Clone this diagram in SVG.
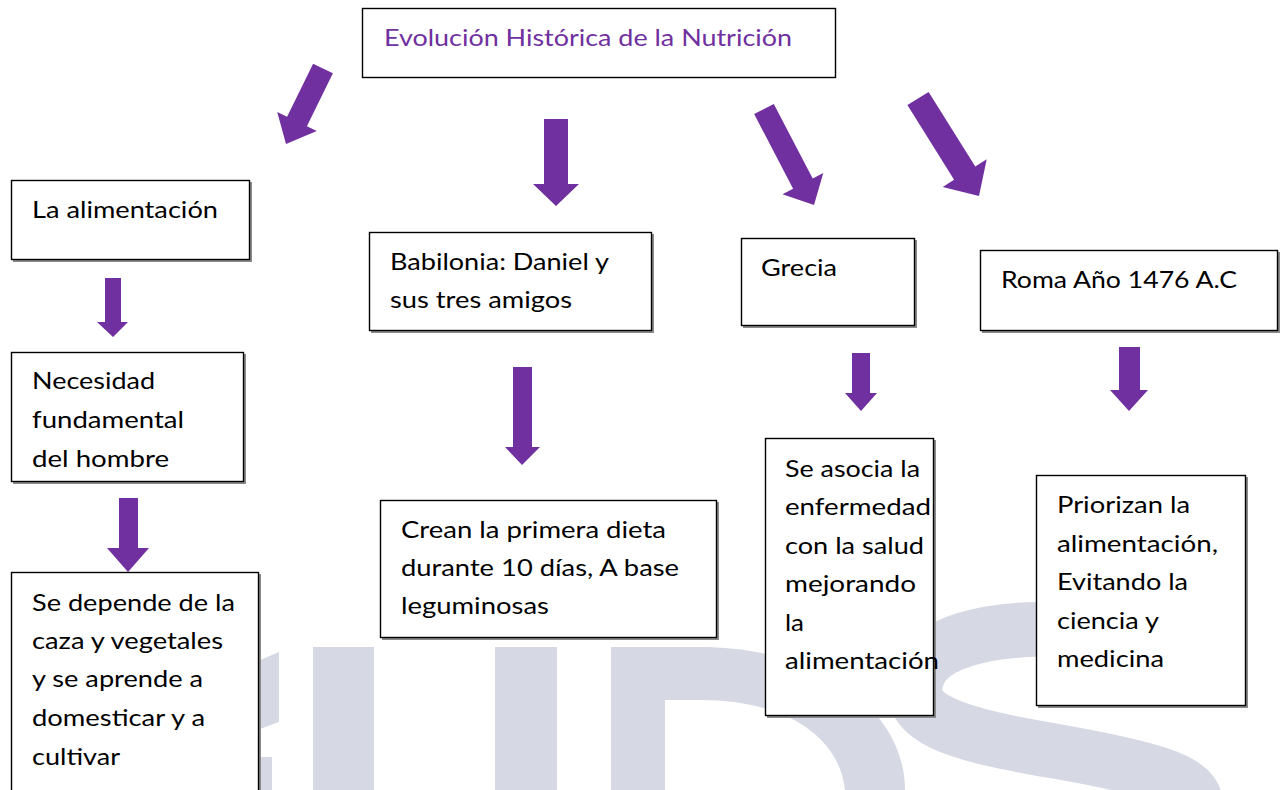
<svg xmlns="http://www.w3.org/2000/svg" width="1284" height="790" viewBox="0 0 1284 790">
<style>
.bg{fill:#ffffff}
.wm{fill:#d6d9e3}
.wms{fill:none;stroke:#d6d9e3}
.box{fill:#ffffff;stroke:#000000;stroke-width:1.4}
.sh{fill:#8a8a8a}
.t{font-family:Lato,"Open Sans","Liberation Sans",sans-serif;font-size:24px;fill:#000000}
.title{font-family:Lato,"Open Sans","Liberation Sans",sans-serif;font-size:24px;fill:#7030a0}
.arr{fill:#7030a0}
</style>
<rect class="bg" x="0" y="0" width="1284" height="790"/>
<g id="watermark">
<polygon class="wm" points="260,660 279,652 279,722 260,729"/>
<rect class="wm" x="260" y="757" width="12" height="33"/>
<rect class="wm" x="313" y="647" width="61" height="143"/>
<rect class="wm" x="495" y="647" width="62" height="143"/>
<path class="wm" d="M611,647 L700,647 C820,647 905,710 905,790 L845,790 C840,740 790,700 700,700 L665,700 L665,790 L611,790 Z"/>
<path class="wms" stroke-width="55" d="M1190,660 C1120,620 950,615 920,670 C895,720 960,735 1060,752 C1150,768 1190,780 1195,800"/>
</g>
<g id="connectors">
<polygon class="arr" points="313.1,63.7 332.9,73.3 306.9,126.3 316.8,131.1 286,144 277.2,111.9 287.1,116.7"/>
<polygon class="arr" points="544,119 568,119 568,184 579,184 556,206 533,184 544,184"/>
<polygon class="arr" points="754.2,114.1 773.8,103.9 812.7,178.6 823.3,173.1 814,205 782.5,194.3 793.1,188.8"/>
<polygon class="arr" points="907.4,105.1 928.6,91.9 975.3,166.5 986.7,159.3 979,196 942.7,186.9 954.1,179.7"/>
<polygon class="arr" points="105,278 121,278 121,322 128,322 113,337 97,322 105,322"/>
<polygon class="arr" points="119,498 138,498 138,548 149,548 128,572 107,548 119,548"/>
<polygon class="arr" points="513,367 532,367 532,447 540,447 522,465 505,447 513,447"/>
<polygon class="arr" points="852,353 870,353 870,393 877,393 861,411 845,393 852,393"/>
<polygon class="arr" points="1119,347 1140,347 1140,390 1148,390 1129,411 1110,390 1119,390"/>
</g>
<g id="n-title">
<rect class="box" x="362.5" y="8.5" width="473" height="69"/>
<text class="title" x="384" y="46" textLength="408" lengthAdjust="spacingAndGlyphs">Evolución Histórica de la Nutrición</text>
</g>
<g id="n-alimentacion">
<rect class="sh" x="13" y="182" width="239" height="80"/>
<rect class="box" x="11.5" y="180.5" width="238" height="79"/>
<text class="t" x="32" y="218" textLength="186" lengthAdjust="spacingAndGlyphs">La alimentación</text>
</g>
<g id="n-necesidad">
<rect class="sh" x="13" y="354" width="233" height="130"/>
<rect class="box" x="11.5" y="352.5" width="232" height="129"/>
<text class="t" x="32" y="389" textLength="123" lengthAdjust="spacingAndGlyphs">Necesidad</text>
<text class="t" x="32" y="428" textLength="152" lengthAdjust="spacingAndGlyphs">fundamental</text>
<text class="t" x="32" y="467" textLength="137" lengthAdjust="spacingAndGlyphs">del hombre</text>
</g>
<g id="n-caza">
<rect class="sh" x="13" y="574" width="248" height="230"/>
<rect class="box" x="11.5" y="572.5" width="247" height="230"/>
<text class="t" x="32" y="611" textLength="203" lengthAdjust="spacingAndGlyphs">Se depende de la</text>
<text class="t" x="32" y="649" textLength="191" lengthAdjust="spacingAndGlyphs">caza y vegetales</text>
<text class="t" x="32" y="687" textLength="171" lengthAdjust="spacingAndGlyphs">y se aprende a</text>
<text class="t" x="32" y="726" textLength="173" lengthAdjust="spacingAndGlyphs">domesticar y a</text>
<text class="t" x="32" y="765" textLength="88" lengthAdjust="spacingAndGlyphs">cultivar</text>
</g>
<g id="n-babilonia">
<rect class="sh" x="371" y="234" width="283" height="99"/>
<rect class="box" x="369.5" y="232.5" width="282" height="98"/>
<text class="t" x="390" y="270" textLength="219" lengthAdjust="spacingAndGlyphs">Babilonia: Daniel y</text>
<text class="t" x="390" y="308" textLength="182" lengthAdjust="spacingAndGlyphs">sus tres amigos</text>
</g>
<g id="n-dieta">
<rect class="sh" x="382" y="502" width="337" height="138"/>
<rect class="box" x="380.5" y="500.5" width="336" height="137"/>
<text class="t" x="401" y="538" textLength="265" lengthAdjust="spacingAndGlyphs">Crean la primera dieta</text>
<text class="t" x="401" y="576" textLength="278" lengthAdjust="spacingAndGlyphs">durante 10 días, A base</text>
<text class="t" x="401" y="614" textLength="148" lengthAdjust="spacingAndGlyphs">leguminosas</text>
</g>
<g id="n-grecia">
<rect class="sh" x="743" y="240" width="174" height="88"/>
<rect class="box" x="741.5" y="238.5" width="173" height="87"/>
<text class="t" x="761" y="276" textLength="76" lengthAdjust="spacingAndGlyphs">Grecia</text>
</g>
<g id="n-roma">
<rect class="sh" x="982" y="252" width="298" height="81"/>
<rect class="box" x="980.5" y="250.5" width="297" height="80"/>
<text class="t" x="1001" y="288" textLength="236" lengthAdjust="spacingAndGlyphs">Roma Año 1476 A.C</text>
</g>
<g id="n-enfermedad">
<rect class="sh" x="767" y="440" width="169" height="278"/>
<rect class="box" x="765.5" y="438.5" width="168" height="277"/>
<text class="t" x="785" y="477" textLength="135" lengthAdjust="spacingAndGlyphs">Se asocia la</text>
<text class="t" x="785" y="515" textLength="146" lengthAdjust="spacingAndGlyphs">enfermedad</text>
<text class="t" x="785" y="554" textLength="139" lengthAdjust="spacingAndGlyphs">con la salud</text>
<text class="t" x="785" y="592" textLength="131" lengthAdjust="spacingAndGlyphs">mejorando</text>
<text class="t" x="785" y="631" textLength="19" lengthAdjust="spacingAndGlyphs">la</text>
<text class="t" x="785" y="669" textLength="154" lengthAdjust="spacingAndGlyphs">alimentación</text>
</g>
<g id="n-priorizan">
<rect class="sh" x="1038" y="477" width="210" height="231"/>
<rect class="box" x="1036.5" y="475.5" width="209" height="230"/>
<text class="t" x="1057" y="513" textLength="133" lengthAdjust="spacingAndGlyphs">Priorizan la</text>
<text class="t" x="1057" y="552" textLength="161" lengthAdjust="spacingAndGlyphs">alimentación,</text>
<text class="t" x="1057" y="590" textLength="131" lengthAdjust="spacingAndGlyphs">Evitando la</text>
<text class="t" x="1057" y="629" textLength="102" lengthAdjust="spacingAndGlyphs">ciencia y</text>
<text class="t" x="1057" y="667" textLength="107" lengthAdjust="spacingAndGlyphs">medicina</text>
</g>
</svg>
